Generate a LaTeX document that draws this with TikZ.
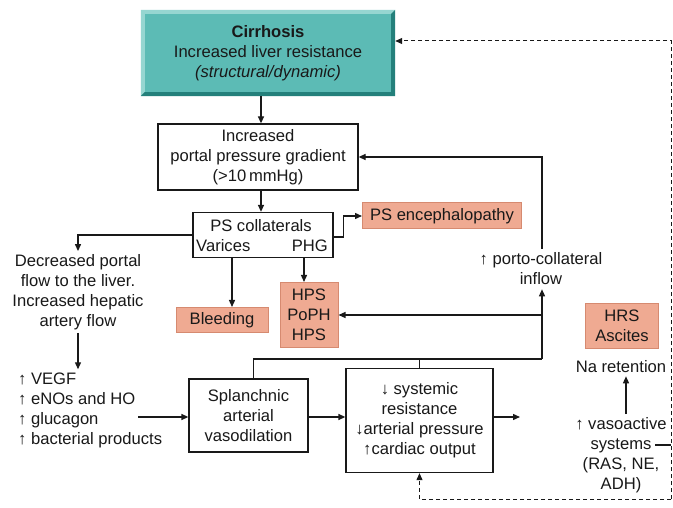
\documentclass[tikz,border=0pt]{standalone}
\usepackage{fontspec}
\setmainfont{Liberation Sans}
\usetikzlibrary{arrows.meta}

\definecolor{tealfill}{RGB}{92,187,181}
\definecolor{tealdark}{RGB}{36,128,123}
\definecolor{teallight}{RGB}{150,214,209}
\definecolor{salmon}{RGB}{239,170,146}
\definecolor{salmonline}{RGB}{214,138,112}
\definecolor{ink}{RGB}{25,25,25}

\tikzset{
  box/.style={draw=ink, line width=1.3pt, inner sep=0pt, align=center, text=ink},
  hot/.style={fill=salmon, draw=salmonline, line width=1pt, inner sep=0pt, align=center, text=ink},
  txt/.style={inner sep=0pt, align=center, text=ink},
  arr/.style={draw=ink, line width=1.3pt, -{Triangle[length=7pt,width=6pt]}},
  ln/.style={draw=ink, line width=1.3pt},
  dashline/.style={draw=ink, line width=1pt, dash pattern=on 4pt off 3pt},
}

\begin{document}
\begin{tikzpicture}[x=1pt, y=-1pt, font=\fontsize{16.6}{20}\selectfont]
\useasboundingbox[fill=white] (0,0) rectangle (673,508);

% top box with bevel
\node[txt, fill=tealfill, minimum width=254pt, minimum height=86pt] (cirr) at (268,53)
  {\textbf{Cirrhosis}\\Increased liver resistance\\\textit{(structural/dynamic)}};
\fill[teallight] (cirr.north east) -- (cirr.north west) -- (cirr.south west)
  -- ([shift={(4,-4)}]cirr.south west) -- ([shift={(4,4)}]cirr.north west) -- ([shift={(-4,4)}]cirr.north east) -- cycle;
\fill[tealdark] (cirr.north east) -- (cirr.south east) -- (cirr.south west)
  -- ([shift={(4,-4)}]cirr.south west) -- ([shift={(-4,-4)}]cirr.south east) -- ([shift={(-4,4)}]cirr.north east) -- cycle;

% boxes
\node[box, minimum width=200pt, minimum height=66pt] (portal) at (258,157) {Increased\\portal pressure gradient\\(>10\,mmHg)};
\node[box, minimum width=140pt, minimum height=45pt] (ps) at (263,235) {};
\node[txt] (pscol) at (261,226) {PS collaterals};
\node[txt, anchor=west] (varices) at (196,246) {Varices};
\node[txt, anchor=east] (phg) at (328,246) {PHG};
\node[hot, minimum width=92pt, minimum height=25pt] (bleed) at (222,320) {Bleeding};
\node[hot, minimum width=58pt, minimum height=65pt] (hps) at (309,315) {HPS\\PoPH\\HPS};
\node[hot, minimum width=159pt, minimum height=26pt] (pse) at (442,216) {PS encephalopathy};
\node[hot, minimum width=73pt, minimum height=44pt] (hrs) at (622,326) {HRS\\Ascites};
\node[box, minimum width=119pt, minimum height=73pt] (splanch) at (248.5,415.5) {Splanchnic\\arterial\\vasodilation};
\node[box, minimum width=147pt, minimum height=104pt] (sys) at (419.5,420.5)
  {↓ systemic\\resistance\\↓arterial pressure\\↑cardiac output};

% free text
\node[txt, inner sep=3pt] (decr) at (78,292) {Decreased portal\\flow to the liver.\\Increased hepatic\\artery flow};
\node[txt, inner sep=3pt, align=left, anchor=west] (vegf) at (15,410) {↑ VEGF\\↑ eNOs and HO\\↑ glucagon\\↑ bacterial products};
\node[txt, inner sep=4pt] (porto) at (541,269) {↑ porto-collateral\\inflow};
\node[txt, inner sep=3pt] (na) at (621,367) {Na retention};
\node[txt, inner sep=3pt] (vaso) at (621,455) {↑ vasoactive\\systems\hspace*{12pt}\\(RAS, NE,\\ADH)};

% coordinates
\coordinate (spine) at (261,0);
\coordinate (vgout) at (138,417);
\coordinate (sysout) at (520,417);
\coordinate (junc) at (542,359);
\coordinate (vasodash) at (655,445);
\coordinate (rimvaso) at (671,445);
\coordinate (rimtop) at (671,41);
\coordinate (rimbot) at (671,499);

% connectors
\draw[arr] (cirr.south -| spine) -- (portal.north -| spine);
\draw[arr] (portal.south -| spine) -- (ps.north -| spine);
\draw[arr] (ps.west) -| (decr.north);
\draw[arr] (decr.south) -- (decr.south |- vegf.north);
\draw[arr] (vgout) -- (vgout -| splanch.west);
\draw[arr] (splanch.east |- vgout) -- (sys.west |- vgout);
\draw[arr] (sys.east |- sysout) -- (sysout);
\draw[ln] ([xshift=5pt]splanch.north) |- (junc);
\draw[ln] (sys.north |- junc) -- (sys.north);
\draw[arr] (junc) -- (junc |- porto.south);
\draw[arr] (junc |- hps.east) -- (hps.east);
\draw[arr] (junc |- porto.north) |- (portal.east);
\draw[arr] ([xshift=10pt]bleed.north |- ps.south) -- ([xshift=10pt]bleed.north);
\draw[arr] ([xshift=-5pt]hps.north |- ps.south) -- ([xshift=-5pt]hps.north);
\draw[arr] ([yshift=-2pt]ps.east) -- ++(10,0) |- (pse.west);
\draw[arr] ([xshift=5pt]vaso.north) -- ([xshift=5pt]vaso.north |- na.south);
\draw[ln] (vasodash) -- (rimvaso);

% feedback loops
\draw[dashline, -{Triangle[length=7pt,width=6pt]}] (rimbot) |- (cirr.east |- rimtop);
\draw[dashline, -{Triangle[length=7pt,width=6pt]}] (rimbot) -| (sys.south);
\end{tikzpicture}
\end{document}
